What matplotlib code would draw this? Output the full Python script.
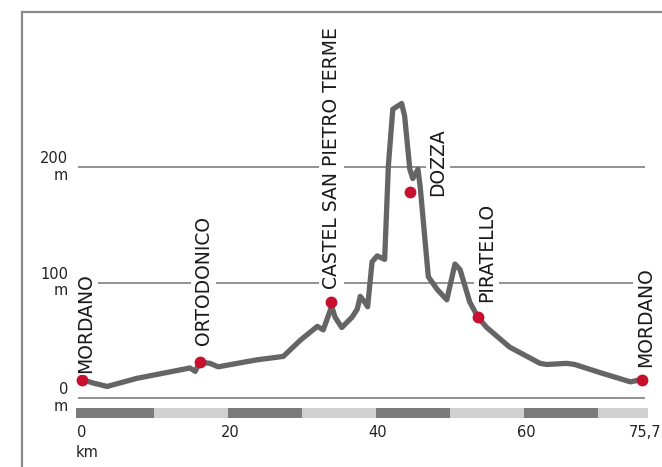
import numpy as np
import matplotlib
matplotlib.use("Agg")
import matplotlib.pyplot as plt
from matplotlib.lines import Line2D

# elevation profile (km, m)
dist_km = [0.0, 1.5, 3.4, 7.4, 14.6, 15.3, 15.9, 17.3, 18.4, 23.6, 27.2, 29.5,
           31.8, 32.6, 33.5, 33.7, 34.2, 35.1, 36.5, 37.2, 37.6, 38.2, 38.6,
           39.2, 39.9, 40.9, 41.4, 42.0, 43.2, 43.6, 44.3, 44.7, 45.4, 45.7,
           46.8, 48.0, 49.3, 50.4, 51.1, 52.4, 53.5, 54.7, 57.8, 61.9, 62.8,
           65.5, 66.6, 70.0, 74.1, 75.7]
elev_m = [16, 13, 10, 17, 26, 23, 31, 30, 27, 33, 36, 50,
          62, 59, 75, 80, 70, 61, 70, 77, 88, 83, 79,
          118, 123, 120, 201, 250, 255, 244, 198, 190, 198, 183,
          105, 94, 85, 116, 111, 83, 70, 61, 44, 30, 29,
          30, 29, 22, 14, 16]

# places on the route
places = ["MORDANO", "ORTODONICO", "CASTEL SAN PIETRO TERME", "DOZZA",
          "PIRATELLO", "MORDANO"]
place_km = [0.0, 15.9, 33.6, 44.3, 53.5, 75.7]
place_m = [16, 31, 83, 178, 70, 16]

# where each name sits (km, m of text start)
label_km = [0.5, 16.4, 33.7, 48.1, 54.7, 76.1]
label_m = [22, 46, 94, 175, 83, 27]

grid_m = [0, 100, 200]
tick_km = [0, 20, 40, 60, 75.7]
tick_txt = ["0", "20", "40", "60", "75,7"]

LINE = "#656565"
RED = "#c8102e"
GRID = "#7f7f7f"

fig = plt.figure(figsize=(6.62, 4.67), dpi=100)
ax = fig.add_axes([0, 0, 1, 1])
ax.set_xlim(-82 / 7.4, (662 - 82) / 7.4)
ax.set_ylim((398 - 467) / 1.155, 398 / 1.155)
ax.axis("off")

# outer frame (left and top only visible)
fig.add_artist(Line2D([22 / 662, 22 / 662], [0, 1 - 12 / 467],
                      transform=fig.transFigure, color="#8a8a8a", lw=1.6))
fig.add_artist(Line2D([22 / 662, 1], [1 - 12 / 467, 1 - 12 / 467],
                      transform=fig.transFigure, color="#8a8a8a", lw=1.6))

# horizontal reference lines and their labels
ax.hlines(grid_m, -0.55, 76.1, color=GRID, lw=1.2, zorder=1)
for g in grid_m:
    ax.text(-1.9, g, f"{g}\nm", ha="right", va="center", fontsize=10.5,
            multialignment="right", color="#222222", linespacing=1.1)

# distance bar, alternating 10 km blocks
edges = [-0.8] + [k * 10 - 0.3 for k in range(1, 8)] + [76.5]
for i in range(len(edges) - 1):
    col = "#7b7b7b" if i % 2 == 0 else "#d0d0d0"
    ax.fill_between([edges[i], edges[i + 1]], -17.5, -8.8, color=col, lw=0)

for k, t in zip(tick_km, tick_txt):
    ax.text(k + (0.4 if t == "75,7" else 0), -29.5, t, ha="center",
            va="center", fontsize=10.5, color="#222222")
ax.text(-0.8, -47, "km", ha="left", va="center", fontsize=10.5, color="#222222")

# profile
ax.plot(dist_km, elev_m, color=LINE, lw=3.8, solid_joinstyle="round",
        solid_capstyle="round", zorder=3)
ax.plot(place_km, place_m, "o", color=RED, ms=7.5, zorder=4)

for name, lx, ly in zip(places, label_km, label_m):
    ax.text(lx, ly, name, rotation=90, ha="center", va="bottom", fontsize=13.5,
            color="#1a1a1a", zorder=5,
            bbox=dict(facecolor="white", edgecolor="none", pad=2.0))

fig.savefig("out.png", dpi=100)
